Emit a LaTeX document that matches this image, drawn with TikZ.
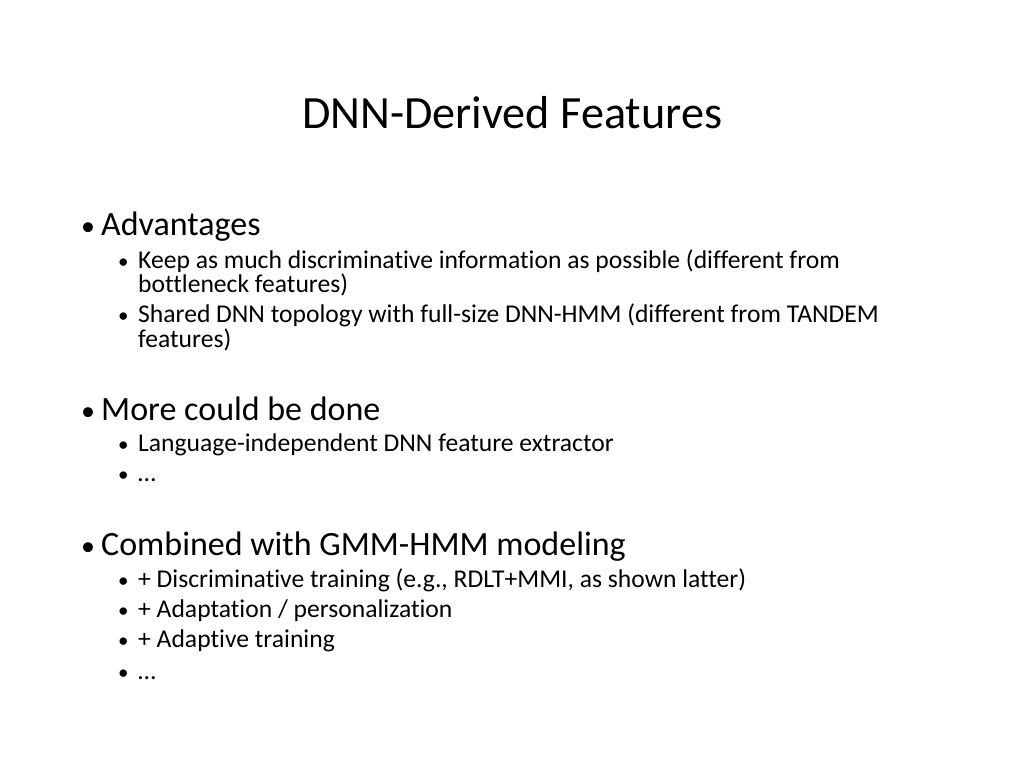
\documentclass[tikz,border=0pt]{standalone}
\usepackage{fontspec}
\setmainfont[Ligatures=NoCommon]{Carlito}
\begin{document}
\begin{tikzpicture}[x=1pt,y=-1pt,
  title/.style={anchor=base,inner sep=0pt,font=\fontsize{46.2}{55}\selectfont},
  lone/.style={anchor=base west,inner sep=0pt,font=\fontsize{34}{40}\selectfont},
  ltwo/.style={anchor=base west,inner sep=0pt,font=\fontsize{25.6}{30}\selectfont},
  bone/.style={anchor=base west,inner sep=0pt,font=\fontsize{28}{34}\selectfont},
  btwo/.style={anchor=base west,inner sep=0pt,font=\fontsize{21}{25}\selectfont}]
\useasboundingbox[fill=white] (0,0) rectangle (1024,768);
\node[title] (t) at (512,128) {DNN-Derived Features};
% Advantages
\node[bone] (b1) at (81,235) {•};
\node[lone] (l1) at (101,235) {Advantages};
\node[btwo] (b11) at (118,268) {•};
\node[ltwo] (l11) at (138,268) {Keep as much discriminative information as possible (different from};
\node[ltwo] (l11b) at (138,292) {bottleneck features)};
\node[btwo] (b12) at (118,322) {•};
\node[ltwo] (l12) at (138,322) {Shared DNN topology with full-size DNN-HMM (different from TANDEM};
\node[ltwo] (l12b) at (138,347) {features)};
% More
\node[bone] (b2) at (81,420) {•};
\node[lone] (l2) at (101,420) {More could be done};
\node[btwo] (b21) at (118,451) {•};
\node[ltwo] (l21) at (138,451) {Language-independent DNN feature extractor};
\node[btwo] (b22) at (118,481) {•};
\node[ltwo] (l22) at (138,481) {…};
% Combined
\node[bone] (b3) at (81,555) {•};
\node[lone] (l3) at (101,555) {Combined with GMM-HMM modeling};
\node[btwo] (b31) at (118,587) {•};
\node[ltwo] (l31) at (138,587) {+ Discriminative training (e.g., RDLT+MMI, as shown latter)};
\node[btwo] (b32) at (118,617) {•};
\node[ltwo] (l32) at (138,617) {+ Adaptation / personalization};
\node[btwo] (b33) at (118,647) {•};
\node[ltwo] (l33) at (138,647) {+ Adaptive training};
\node[btwo] (b34) at (118,679) {•};
\node[ltwo] (l34) at (138,679) {…};
\end{tikzpicture}
\end{document}
